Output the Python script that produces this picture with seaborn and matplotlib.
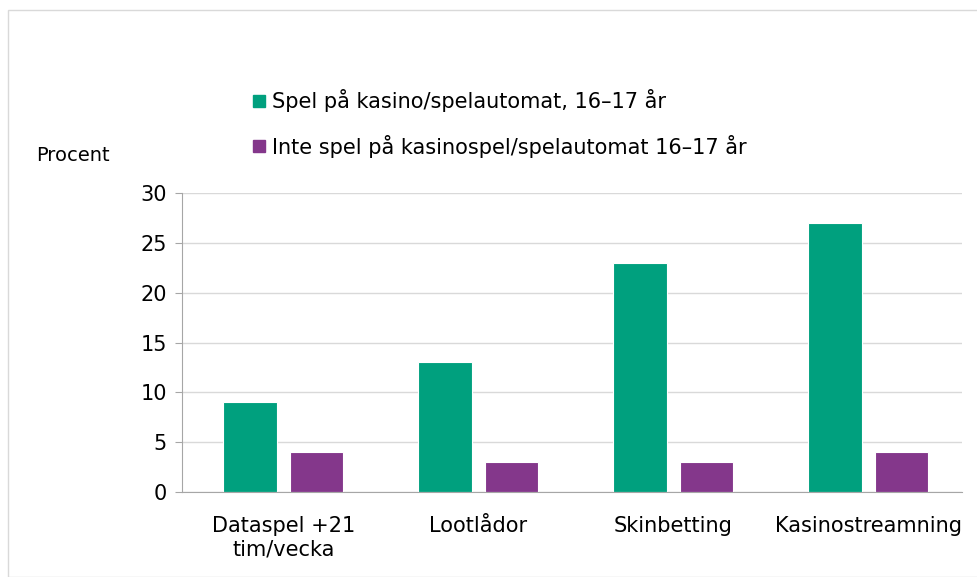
import numpy as np
import pandas as pd
import matplotlib.pyplot as plt
import seaborn as sns
from matplotlib.patches import Rectangle

categories = ["Dataspel +21\ntim/vecka", "Lootlådor", "Skinbetting", "Kasinostreamning"]
series_names = ["Spel på kasino/spelautomat, 16–17 år",
                "Inte spel på kasinospel/spelautomat 16–17 år"]
casino = [9, 13, 23, 27]
no_casino = [4, 3, 3, 4]
yticks = [0, 5, 10, 15, 20, 25, 30]
colors = ["#00A07E", "#84378B"]

df = pd.DataFrame({
    "kategori": categories * 2,
    "grupp": [series_names[0]] * 4 + [series_names[1]] * 4,
    "procent": casino + no_casino,
})

sns.set_style("white")
plt.rcParams['font.family'] = ['DejaVu Sans']
plt.rcParams['text.color'] = "black"
plt.rcParams['xtick.color'] = "black"
plt.rcParams['ytick.color'] = "black"

fig = plt.figure(figsize=(9.78, 5.77), dpi=100)
ax = fig.add_axes([182 / 978, 1 - 492 / 577, 780 / 978, 299 / 577])

sns.barplot(data=df, x="kategori", y="procent", hue="grupp", ax=ax,
            palette=colors, saturation=1, width=0.68, gap=0.19,
            edgecolor="white", linewidth=0.8, legend=False)

ax.set_ylim(0, 30)
ax.set_yticks(yticks)
ax.set_xlim(-0.52, 3.48)
ax.yaxis.grid(True, color="#d9d9d9", linewidth=1)
ax.set_axisbelow(True)
for s in ["top", "right"]:
    ax.spines[s].set_visible(False)
for s in ["left", "bottom"]:
    ax.spines[s].set_color("#a6a6a6")
ax.tick_params(axis="y", left=True, length=5, color="#a6a6a6", labelsize=15, pad=6)
ax.tick_params(axis="x", bottom=False, labelsize=15, pad=14)
ax.set_xlabel("")
ax.set_ylabel("")

fig.text(36 / 978, 1 - 156 / 577, "Procent", fontsize=14, va="center", ha="left")

# legend drawn by hand to match layout
for i, (name, col) in enumerate(zip(series_names, colors)):
    yc = 1 - (101 + 45 * i) / 577
    fig.patches.append(Rectangle((253 / 978, yc - 6 / 577), 12 / 978, 12 / 577,
                                 transform=fig.transFigure, color=col))
    fig.text(272 / 978, yc, name, fontsize=15, va="center", ha="left")

# outer frame
fig.patches.append(Rectangle((8 / 978, 0), 975 / 978, 1 - 10 / 577, transform=fig.transFigure,
                             fill=False, edgecolor="#d9d9d9", linewidth=1))

fig.savefig("out.png", dpi=100)
